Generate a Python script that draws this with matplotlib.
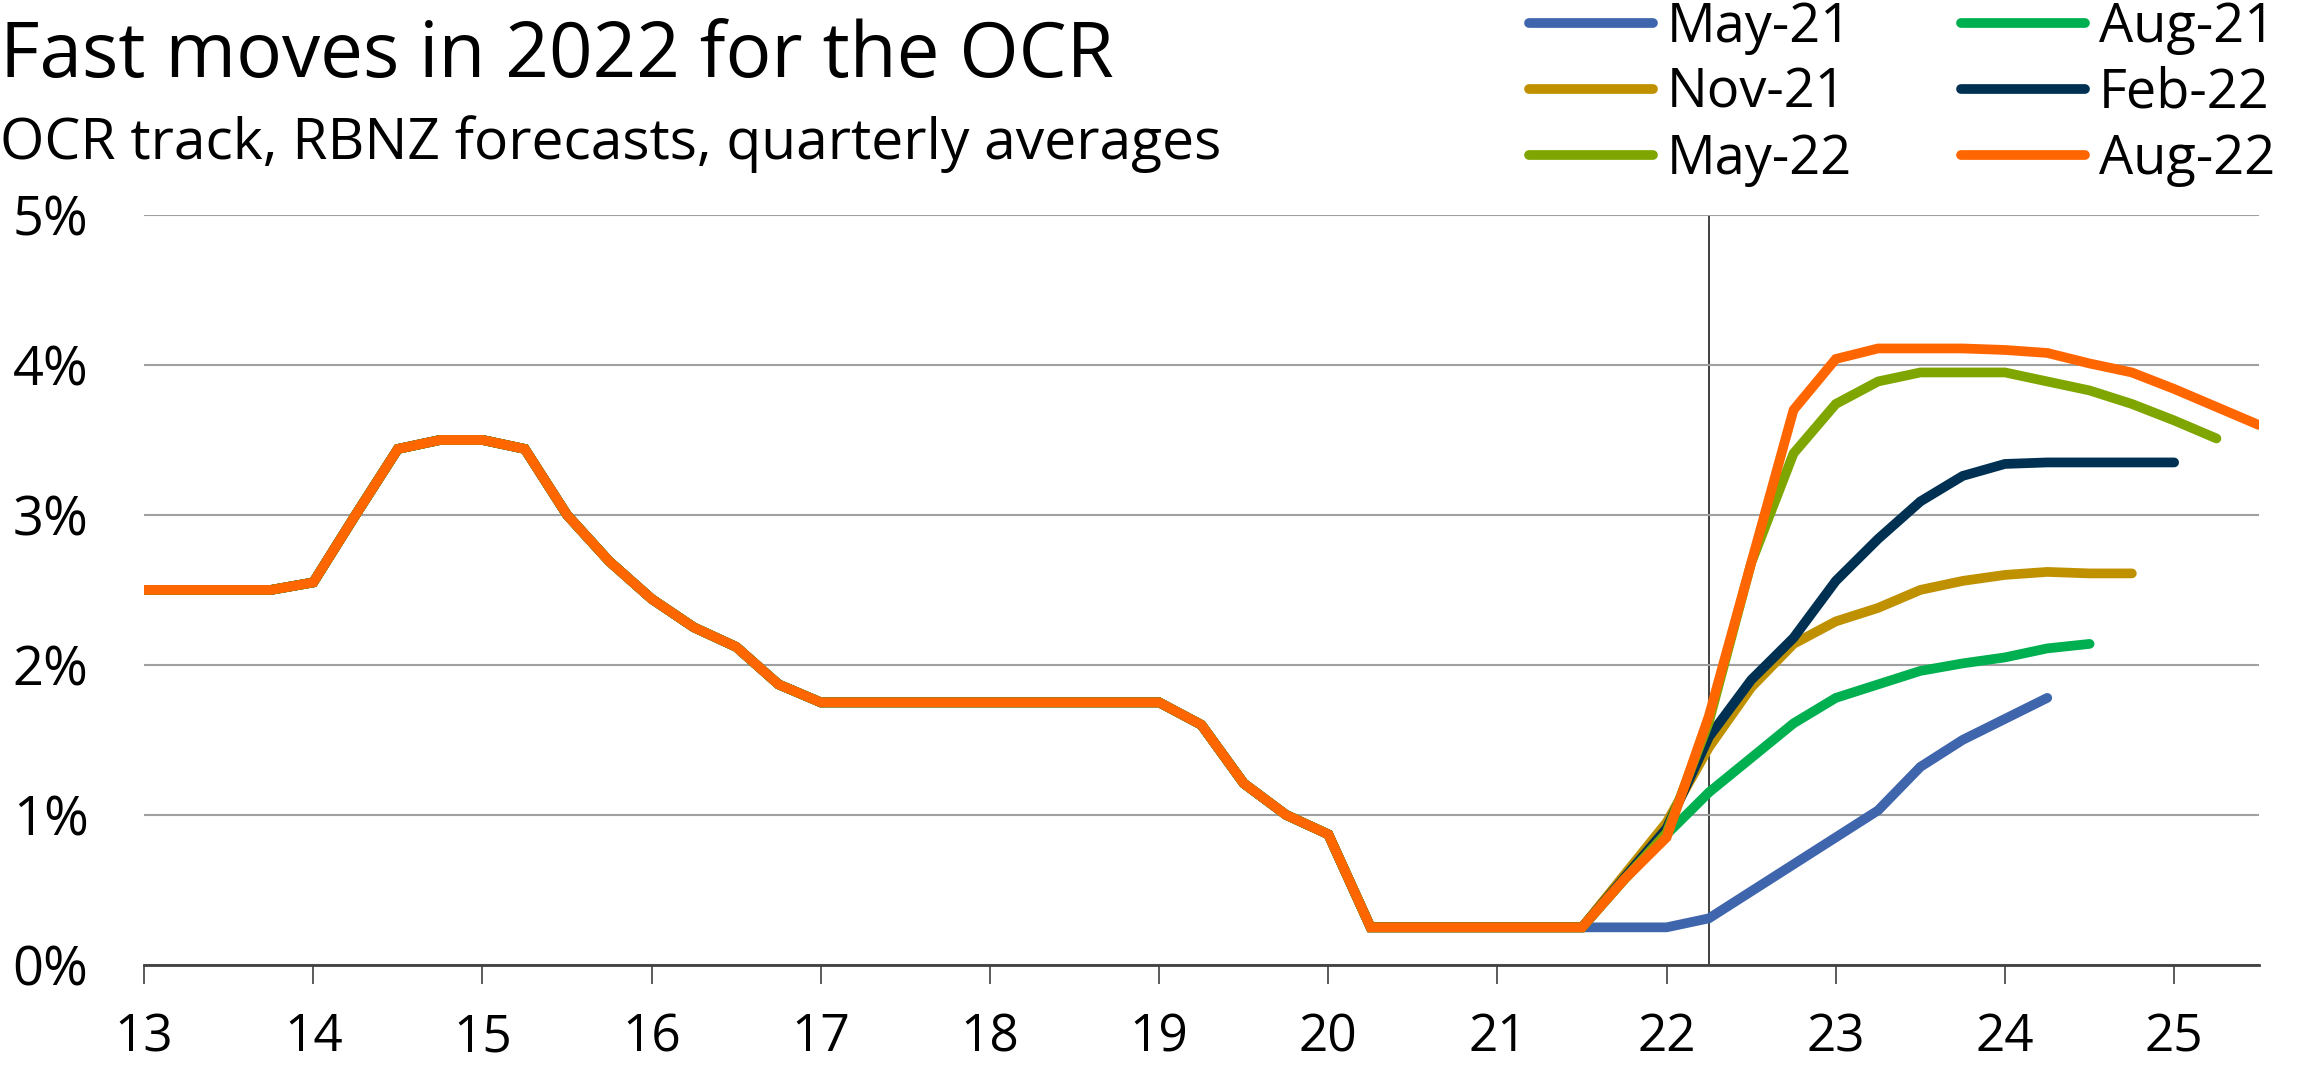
import matplotlib
matplotlib.use("Agg")
import matplotlib.pyplot as plt
import numpy as np

# ---- data ----
hist_x = [13.0 + 0.25 * i for i in range(35)]  # 13.0 .. 21.5 quarterly
hist_y = [2.5, 2.5, 2.5, 2.5,
          2.55, 3.0, 3.44, 3.5,
          3.5, 3.44, 3.0, 2.69,
          2.44, 2.25, 2.12, 1.87,
          1.75, 1.75, 1.75, 1.75,
          1.75, 1.75, 1.75, 1.75,
          1.75, 1.6, 1.21, 1.0,
          0.87, 0.25, 0.25, 0.25,
          0.25, 0.25, 0.25]

fc_start = 21.75
may21 = [0.25, 0.25, 0.31, 0.49, 0.67, 0.85, 1.03, 1.32, 1.5, 1.64, 1.78]
aug21 = [0.57, 0.87, 1.15, 1.38, 1.61, 1.78, 1.87, 1.96, 2.01, 2.05, 2.11, 2.14]
nov21 = [0.6, 0.95, 1.45, 1.85, 2.14, 2.29, 2.38, 2.5, 2.56, 2.6, 2.62, 2.61, 2.61]
feb22 = [0.58, 0.91, 1.52, 1.9, 2.18, 2.56, 2.84, 3.09, 3.26, 3.34, 3.35, 3.35, 3.35, 3.35]
may22 = [0.57, 0.88, 1.62, 2.68, 3.41, 3.74, 3.89, 3.95, 3.95, 3.95, 3.89, 3.83, 3.74, 3.63, 3.51]
aug22 = [0.57, 0.85, 1.66, 2.68, 3.7, 4.04, 4.11, 4.11, 4.11, 4.1, 4.08, 4.01, 3.95, 3.84, 3.72, 3.6]

labels = ["May-21", "Aug-21", "Nov-21", "Feb-22", "May-22", "Aug-22"]
colors = ["#3F65AD", "#00B050", "#BF9000", "#003152", "#7FA600", "#FF6600"]
series = [may21, aug21, nov21, feb22, may22, aug22]

x_ticks = list(range(13, 26))
y_ticks = [0, 1, 2, 3, 4, 5]
y_ticklabels = ["0%", "1%", "2%", "3%", "4%", "5%"]
now_line = 22.25

# ---- plot ----
plt.rcParams['font.family'] = ['Open Sans', 'DejaVu Sans']
fig = plt.figure(figsize=(23.06, 10.68), dpi=100)
ax = fig.add_axes([0.0625, 0.0966, 0.917, 0.7021])

lw = 7.0
handles = {}
for lab, col, vals in zip(labels, colors, series):
    xs = hist_x + [fc_start + 0.25 * i for i in range(len(vals))]
    ys = hist_y + vals
    h, = ax.plot(xs, ys, color=col, lw=lw, solid_capstyle='round',
                 solid_joinstyle='miter', label=lab)
    handles[lab] = h

ax.axvline(now_line, color='#202020', lw=1.2, zorder=0.5)

ax.set_xlim(13, 25.5)
ax.set_ylim(0, 5)
ax.set_yticks(y_ticks)
ax.set_yticklabels(y_ticklabels)
ax.set_xticks(x_ticks)
ax.set_xticklabels([str(t) for t in x_ticks])
ax.yaxis.grid(True, color='#A0A0A0', lw=1.5)
ax.set_axisbelow(True)
for s in ['top', 'right', 'left']:
    ax.spines[s].set_visible(False)
ax.spines['bottom'].set_color('#404040')
ax.spines['bottom'].set_linewidth(2.0)
ax.tick_params(axis='y', length=0, pad=40, labelsize=39)
ax.tick_params(axis='x', length=14, width=1.2, color='#404040', pad=20, labelsize=37)

fig.text(0.0, 0.928, "Fast moves in 2022 for the OCR", fontsize=55, va='baseline', ha='left')
fig.text(0.0, 0.851, "OCR track, RBNZ forecasts, quarterly averages", fontsize=41, va='baseline', ha='left')

order = ["May-21", "Nov-21", "May-22", "Aug-21", "Feb-22", "Aug-22"]
leg = fig.legend([handles[o] for o in order], order, ncol=2, loc='upper left',
                 bbox_to_anchor=(0.663, 1.0), frameon=False, fontsize=39,
                 handlelength=2.3, handletextpad=0.25, columnspacing=2.0,
                 labelspacing=0.2, borderpad=0, borderaxespad=0)

fig.savefig("out.png", dpi=100)
